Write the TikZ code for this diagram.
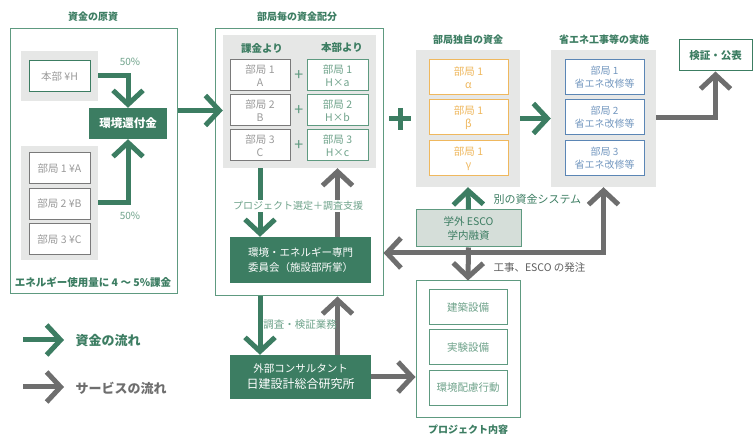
\documentclass[tikz,border=0pt]{standalone}
\usepackage{fontspec}
\setmainfont{Noto Sans CJK JP}
\usepackage{tikz}
\usetikzlibrary{arrows.meta,positioning,calc}

\definecolor{fgreen}{HTML}{3C7D62}
\definecolor{lgreen}{HTML}{5E9A80}
\definecolor{tgreen}{HTML}{6FA38B}
\definecolor{panelgrey}{HTML}{E6E7E6}
\definecolor{sgrey}{HTML}{6E6E6E}
\definecolor{txtgrey}{HTML}{9A9A9A}
\definecolor{bordergrey}{HTML}{7A7A7A}
\definecolor{forange}{HTML}{EFB85E}
\definecolor{fblue}{HTML}{5B86B5}
\definecolor{escofill}{HTML}{D5DED9}

\tikzset{
  frame/.style={draw=lgreen, line width=1pt, fill=white, inner sep=0pt},
  panel/.style={fill=panelgrey, inner sep=0pt},
  greybox/.style={draw=bordergrey, line width=1pt, fill=white, inner sep=0pt,
    minimum width=61pt, minimum height=31pt, text=txtgrey, align=center,
    font=\fontsize{10.5}{12.5}\selectfont},
  greenbox/.style={greybox, draw=lgreen, text=tgreen},
  orangebox/.style={greybox, draw=forange, text=forange, minimum width=79pt, minimum height=35pt},
  bluebox/.style={greybox, draw=fblue, text=fblue!85, minimum width=79pt, minimum height=35pt,
    font=\fontsize{10}{13}\selectfont},
  darkbox/.style={fill=fgreen, text=white, inner sep=0pt, align=center},
  title/.style={text=fgreen, font=\fontsize{10}{11}\selectfont\bfseries},
  greenflow/.style={draw=fgreen, line width=5pt, -{Straight Barb[length=14pt,width=30pt]}},
  greyflow/.style={draw=sgrey, line width=5pt, -{Straight Barb[length=14pt,width=30pt]}},
  greyboth/.style={draw=sgrey, line width=5pt,
    {Straight Barb[length=14pt,width=30pt]}-{Straight Barb[length=14pt,width=30pt]}},
}

\begin{document}
\begin{tikzpicture}[x=1pt, y=-1pt]
    \useasboundingbox (0,0) rectangle (753,438);

    % Source of funds
    \node[title] (gensititle) at (93,17) {資金の原資};
    \node[frame, minimum width=167pt, minimum height=265pt] (gensi) at (93.5,161.5) {};
    \node[panel, minimum width=77pt, minimum height=50pt] (hqpanel) at (59.5,76) {};
    \node[greybox, draw=fgreen] (hq) at (59.5,76.5) {本部 ¥H};
    \node[panel, minimum width=77pt, minimum height=114pt] (bupanel) at (59.5,203) {};
    \node[greybox] (bua) at (59.5,168.5) {部局 1 ¥A};
    \node[greybox] (bub) at (59.5,204) {部局 2 ¥B};
    \node[greybox] (buc) at (59.5,239.5) {部局 3 ¥C};
    \node[darkbox, minimum width=78pt, minimum height=31pt, font=\fontsize{11.5}{12}\selectfont\bfseries] (kanpu) at (128,123.5) {環境還付金};
    \draw[greenflow] (hqpanel.east) -| (kanpu.north);
    \draw[greenflow] (bupanel.east) -| (kanpu.south);
    \node[text=tgreen, font=\fontsize{10}{11}\selectfont] (pctA) at (130,62) {50\%};
    \node[text=tgreen, font=\fontsize{10}{11}\selectfont] (pctB) at (130,216) {50\%};
    \node[title, font=\fontsize{10.5}{11}\selectfont\bfseries] (kakin) at (93,282) {エネルギー使用量に 4 〜 5\%課金};

    % Allocation per department
    \node[title] (haibuntitle) at (297,17) {部局毎の資金配分};
    \node[frame, minimum width=168pt, minimum height=267pt] (haibun) at (299,162.5) {};
    \node[panel, minimum width=153pt, minimum height=133pt] (alpanel) at (299.5,101.5) {};
    \node[title, font=\fontsize{10.5}{11}\selectfont\bfseries] (colL) at (262,48) {課金より};
    \node[title, font=\fontsize{10.5}{11}\selectfont\bfseries] (colR) at (342,48) {本部より};
    \node[greybox, minimum width=60pt] (kl1) at (260,75.5) {部局 1\\A};
    \node[greybox, minimum width=60pt] (kl2) at (260,110.5) {部局 2\\B};
    \node[greybox, minimum width=60pt] (kl3) at (260,145.5) {部局 3\\C};
    \node[greenbox] (kr1) at (337.5,75.5) {部局 1\\H×a};
    \node[greenbox] (kr2) at (337.5,110.5) {部局 2\\H×b};
    \node[greenbox] (kr3) at (337.5,145.5) {部局 3\\H×c};
    \foreach \r in {1,2,3}
      \node[text=lgreen, font=\fontsize{16}{16}\selectfont] (plus\r) at ($(kl\r)!0.5!(kr\r)$) {+};
    \draw[greenflow] (gensi.east |- kl2) -- (alpanel.west |- kl2);

    % Committee
    \node[darkbox, minimum width=141pt, minimum height=46pt, font=\fontsize{10.5}{15}\selectfont] (iinkai) at (300.5,260) {環境・エネルギー専門\\委員会（施設部所掌）};
    \draw[greenflow] (alpanel.south -| kl3) -- (iinkai.north -| kl3);
    \draw[greyflow] (iinkai.north -| kr3) -- (alpanel.south -| kr3);
    \node[text=tgreen, font=\fontsize{10}{11}\selectfont, fill=white, inner sep=1pt] (senteilbl) at (298,206) {プロジェクト選定＋調査支援};

    % Consultant
    \node[darkbox, minimum width=141pt, minimum height=44pt, font=\fontsize{10.5}{16}\selectfont] (consult) at (300.5,377) {外部コンサルタント\\{\fontsize{12}{16}\selectfont 日建設計総合研究所}};
    \draw[greenflow] (haibun.south -| kl3) -- (consult.north -| kl3);
    \draw[greyflow] (consult.north -| kr3) -- (haibun.south -| kr3);
    \node[text=tgreen, font=\fontsize{10.5}{11}\selectfont] (chosalbl) at (300,325) {調査・検証業務};

    % Big plus
    \draw[fgreen, line width=5pt] (389,119) -- (411,119) (400,108) -- (400,130);

    % Department own funds
    \node[title] (dokujititle) at (468,40) {部局独自の資金};
    \node[panel, minimum width=104pt, minimum height=137pt] (dokuji) at (468,118.5) {};
    \node[orangebox] (or1) at (468.5,77.5) {部局 1\\α};
    \node[orangebox] (or2) at (468.5,117.5) {部局 1\\β};
    \node[orangebox] (or3) at (468.5,158.5) {部局 1\\γ};

    % Energy saving works
    \node[title] (shoenetitle) at (604,40) {省エネ工事等の実施};
    \node[panel, minimum width=105pt, minimum height=137pt] (shoene) at (603.5,118.5) {};
    \node[bluebox] (bl1) at (604.5,77.5) {部局 1\\省エネ改修等};
    \node[bluebox] (bl2) at (604.5,117.5) {部局 2\\省エネ改修等};
    \node[bluebox] (bl3) at (604.5,158.5) {部局 3\\省エネ改修等};
    \draw[greenflow] (dokuji.east) -- (shoene.west);

    % Verification
    \node[frame, draw=fgreen, minimum width=73pt, minimum height=31pt, text=fgreen, font=\fontsize{10.5}{11}\selectfont\bfseries] (kensho) at (715.5,55.5) {検証・公表};
    \draw[greyflow] (shoene.east |- bl2) -| (kensho.south);

    % ESCO
    \node[draw=lgreen, line width=1pt, fill=escofill, inner sep=0pt, minimum width=105pt, minimum height=37pt, align=center, text=fgreen, font=\fontsize{10.5}{14}\selectfont] (esco) at (468.5,228.5) {学外 ESCO\\学内融資};
    \draw[greenflow] (esco.north) -- (dokuji.south);
    \node[text=fgreen, anchor=west, font=\fontsize{11}{12}\selectfont] (betsulbl) at (490,199) {別の資金システム};
    \coordinate (junc) at (468,253);
    \draw[greyboth] (shoene.south) |- (haibun.east |- junc);

    % Project contents
    \node[frame, minimum width=104pt, minimum height=137pt] (project) at (468,349.5) {};
    \node[greenbox, minimum width=78pt, minimum height=35pt] (pj1) at (468,307.5) {建築設備};
    \node[greenbox, minimum width=78pt, minimum height=35pt] (pj2) at (468,347.5) {実験設備};
    \node[greenbox, minimum width=78pt, minimum height=35pt] (pj3) at (468,388) {環境配慮行動};
    \node[title] (projecttitle) at (468,430) {プロジェクト内容};
    \draw[greyflow] (esco.south) -- (project.north);
    \node[text=sgrey!85!black, anchor=west, font=\fontsize{10.5}{12}\selectfont] (hatchulbl) at (490,268) {工事、ESCO の発注};
    \draw[greyflow] (consult.east) -- (project.west |- consult.east);

    % Legend
    \coordinate (lgAs) at (23,340);
    \coordinate (lgAe) at (64,340);
    \coordinate (lgBs) at (23,387);
    \coordinate (lgBe) at (64,387);
    \draw[greenflow] (lgAs) -- (lgAe);
    \draw[greyflow] (lgBs) -- (lgBe);
    \node[anchor=west, text=fgreen, font=\fontsize{13}{14}\selectfont\bfseries] (legmoney) at (72,341) {資金の流れ};
    \node[anchor=west, text=sgrey, font=\fontsize{13}{14}\selectfont\bfseries] (legservice) at (72,388) {サービスの流れ};
\end{tikzpicture}
\end{document}
